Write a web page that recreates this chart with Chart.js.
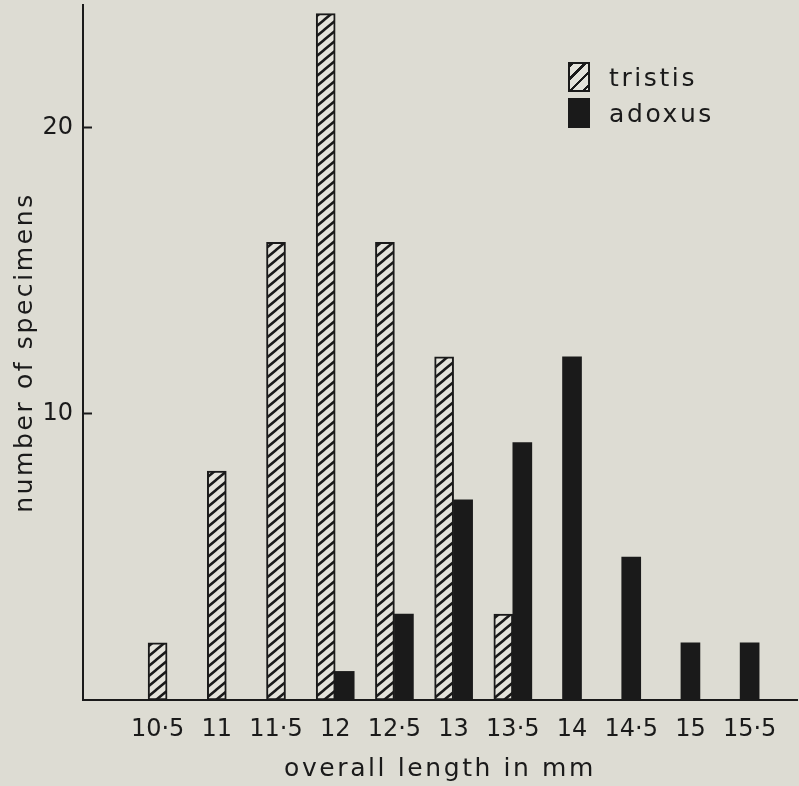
<!DOCTYPE html>
<html lang="en">
<head>
    <meta charset="UTF-8">
    <title>Overall length of tristis and adoxus</title>
    <script src="https://cdn.jsdelivr.net/npm/chart.js"></script>
    <style>
        body {
            margin: 0;
            background: #dddcd3;
        }
        .chart-container {
            position: relative;
            width: 799px;
            height: 786px;
        }
        #legend {
            position: absolute;
            left: 568px;
            top: 62px;
            font-family: 'DejaVu Sans', sans-serif;
            font-size: 25px;
            letter-spacing: 2.6px;
            color: #1a1a1a;
        }
        .legend-item {
            display: flex;
            align-items: center;
            height: 30px;
            margin-bottom: 6px;
        }
        .legend-box {
            width: 18px;
            height: 26px;
            margin-right: 19px;
            border: 2px solid #1a1a1a;
        }
        .hatched {
            background: repeating-linear-gradient(135deg, #1a1a1a 0 2.5px, #e4e3db 2.5px 9px);
        }
    </style>
</head>
<body>
    <div class="chart-container">
        <canvas id="lengthChart" width="799" height="786"></canvas>
        <div id="legend"></div>
    </div>

    <script>
        // mm classes and counts
        const lengths = [10.5, 11, 11.5, 12, 12.5, 13, 13.5, 14, 14.5, 15, 15.5];
        const lengthLabels = ['10·5', '11', '11·5', '12', '12·5', '13', '13·5', '14', '14·5', '15', '15·5'];
        const tristis = [2, 8, 16, 24, 16, 12, 3, null, null, null, null];
        const adoxus = [null, null, null, 1, 3, 7, 9, 12, 5, 2, 2];
        const yTicks = [10, 20];

        const ink = '#1a1a1a';
        const paper = '#e4e3db';

        // diagonal hatch for tristis
        const tile = document.createElement('canvas');
        tile.width = 12;
        tile.height = 10;
        const t = tile.getContext('2d');
        t.fillStyle = paper;
        t.fillRect(0, 0, 12, 10);
        t.strokeStyle = ink;
        t.lineWidth = 2.5;
        t.beginPath();
        t.moveTo(-12, 20); t.lineTo(12, 0);
        t.moveTo(0, 10); t.lineTo(12, 0);
        t.moveTo(0, 20); t.lineTo(24, 0);
        t.moveTo(-12, 10); t.lineTo(12, -10);
        t.stroke();

        const ctx = document.getElementById('lengthChart').getContext('2d');
        const hatch = ctx.createPattern(tile, 'repeat');

        Chart.defaults.font.family = "'DejaVu Sans', sans-serif";
        Chart.defaults.color = ink;

        // axis titles are spaced out like the original lettering, tick labels are not
        const spacing = {
            id: 'spacing',
            beforeDraw(chart) { chart.ctx.letterSpacing = '2.6px'; },
            beforeDatasetsDraw(chart) { chart.ctx.letterSpacing = '0px'; }
        };

        const chart = new Chart(ctx, {
            type: 'bar',
            data: {
                labels: lengths,
                datasets: [{
                    label: 'tristis',
                    data: tristis,
                    backgroundColor: hatch,
                    borderColor: ink,
                    borderWidth: 2,
                    borderSkipped: false
                }, {
                    label: 'adoxus',
                    data: adoxus,
                    backgroundColor: ink,
                    borderWidth: 0
                }]
            },
            options: {
                responsive: false,
                animation: false,
                skipNull: true,
                barThickness: 19,
                layout: {
                    padding: { top: 5, right: 2, left: 0, bottom: 0 }
                },
                plugins: {
                    legend: { display: false },
                    tooltip: { enabled: false }
                },
                scales: {
                    x: {
                        type: 'linear',
                        offset: false,
                        min: 9.87,
                        max: 15.9,
                        afterBuildTicks: scale => {
                            scale.ticks = lengths.map(v => ({ value: v }));
                        },
                        afterFit: scale => { scale.height = 86; },
                        grid: { display: false },
                        border: { display: true, color: ink, width: 2 },
                        ticks: {
                            z: 1,
                            autoSkip: false,
                            maxRotation: 0,
                            padding: 7,
                            font: { size: 24 },
                            callback: (value, index) => lengthLabels[index]
                        },
                        title: {
                            display: true,
                            text: 'overall length in mm',
                            font: { size: 25 },
                            padding: { top: 0, bottom: 2 }
                        }
                    },
                    y: {
                        min: 0,
                        max: 24.3,
                        afterBuildTicks: scale => {
                            scale.ticks = yTicks.map(v => ({ value: v }));
                        },
                        afterFit: scale => {
                            scale.width = 83;
                            // the axis runs up to the top edge, no room kept for labels
                            scale.paddingTop = 0;
                            scale.paddingBottom = 0;
                        },
                        grid: {
                            drawOnChartArea: false,
                            drawTicks: true,
                            tickLength: -9,   // tick marks point into the plot
                            tickColor: ink,
                            tickWidth: 2
                        },
                        border: { display: true, color: ink, width: 2 },
                        ticks: {
                            z: 1,
                            padding: 19,
                            font: { size: 24 },
                            callback: value => String(value)
                        },
                        title: {
                            display: true,
                            text: 'number of specimens',
                            font: { size: 25 },
                            padding: { top: 10, bottom: 0 }
                        }
                    }
                }
            },
            plugins: [spacing]
        });

        // legend built from the datasets
        const legend = document.getElementById('legend');
        chart.data.datasets.forEach((ds, i) => {
            const item = document.createElement('div');
            item.className = 'legend-item';
            const box = document.createElement('span');
            box.className = 'legend-box' + (i === 0 ? ' hatched' : '');
            if (i === 1) box.style.background = ink;
            const label = document.createElement('span');
            label.textContent = ds.label;
            item.appendChild(box);
            item.appendChild(label);
            legend.appendChild(item);
        });
    </script>
</body>
</html>
